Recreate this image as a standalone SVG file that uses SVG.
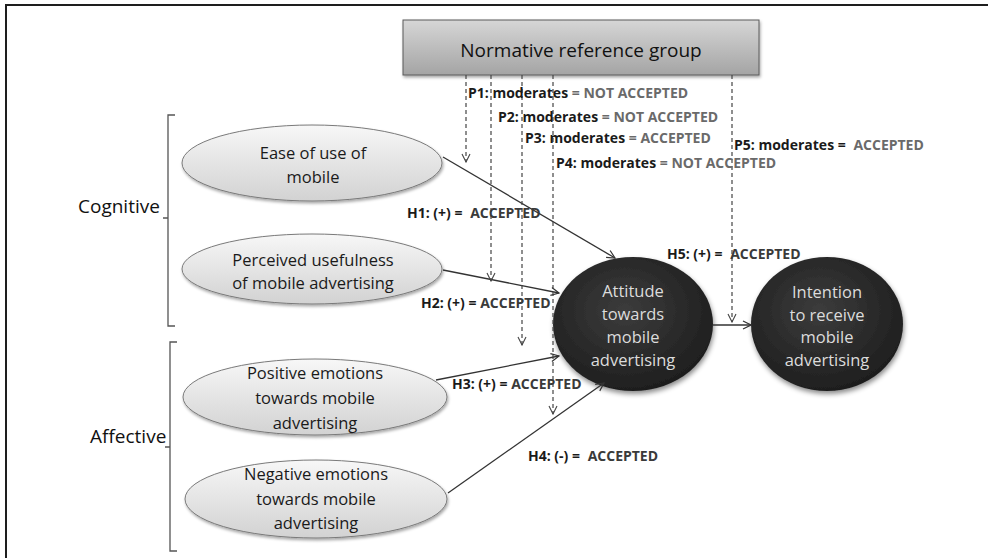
<svg xmlns="http://www.w3.org/2000/svg" width="988" height="558" viewBox="0 0 988 558">
<style>
.lbl{font-family:"Open Sans","Liberation Sans",sans-serif;font-weight:bold;font-size:14px;fill:#1a1a1a;}
.g{fill:#6a6a6a;}
.ga{fill:#3a3a3a;}
.nt{font-family:"Open Sans","Liberation Sans",sans-serif;font-size:16.5px;fill:#1a1a1a;text-anchor:middle;}
.ct{font-family:"Open Sans","Liberation Sans",sans-serif;font-size:16.5px;fill:#dcdcdc;text-anchor:middle;}
.side{font-family:"Open Sans","Liberation Sans",sans-serif;font-size:19px;fill:#111;}
.ell{fill:url(#lg);stroke:#7a7a7a;stroke-width:1;filter:url(#sh);}
.dark{fill:url(#dg);filter:url(#sh2);}
.arr{fill:none;stroke:#333;stroke-width:1.3;marker-end:url(#ah);}
.dash{fill:none;stroke:#444;stroke-width:1.2;stroke-dasharray:4,3;marker-end:url(#ah2);}
.br{fill:none;stroke:#555;stroke-width:1.3;}
</style>
<defs>
<linearGradient id="lg" x1="0" y1="0" x2="0" y2="1"><stop offset="0" stop-color="#f7f7f7"/><stop offset="1" stop-color="#d2d2d2"/></linearGradient>
<radialGradient id="dg" cx="0.45" cy="0.4" r="0.65"><stop offset="0" stop-color="#3c3c3c"/><stop offset="1" stop-color="#1c1c1c"/></radialGradient>
<linearGradient id="bg" x1="0" y1="0" x2="0" y2="1"><stop offset="0" stop-color="#d6d6d6"/><stop offset="1" stop-color="#a4a4a4"/></linearGradient>
<filter id="sh" x="-10%" y="-10%" width="125%" height="135%"><feDropShadow dx="1" dy="2" stdDeviation="1.5" flood-color="#000" flood-opacity="0.35"/></filter>
<filter id="sh2" x="-10%" y="-10%" width="125%" height="135%"><feDropShadow dx="1" dy="3" stdDeviation="2.5" flood-color="#000" flood-opacity="0.45"/></filter>
<marker id="ah" markerWidth="10" markerHeight="10" refX="9" refY="5" orient="auto" markerUnits="userSpaceOnUse"><path d="M1,1 L9,5 L1,9" fill="none" stroke="#333" stroke-width="1.2"/></marker>
<marker id="ah2" markerWidth="10" markerHeight="10" refX="9" refY="5" orient="auto" markerUnits="userSpaceOnUse"><path d="M1,1 L9,5 L1,9" fill="none" stroke="#444" stroke-width="1.1"/></marker>
</defs>
<rect width="988" height="558" fill="#fff"/>
<g id="frame"><path d="M6,558 L6,5 L988,5" fill="none" stroke="#1e1e1e" stroke-width="2"/></g>

<g id="cognitive-bracket">
<path class="br" d="M175,115 L168,115 L168,326 L175,326 M168,218 L163,218"/>
<text class="side" x="78" y="213">Cognitive</text>
</g>
<g id="affective-bracket">
<path class="br" d="M177,342 L170,342 L170,551 L177,551 M170,447 L165,447"/>
<text class="side" x="90" y="443">Affective</text>
</g>

<g id="normative">
<rect x="403" y="20" width="356" height="55" fill="url(#bg)" stroke="#5a5a5a" stroke-width="1" filter="url(#sh)"/>
<text x="581" y="57" font-family="'Open Sans','Liberation Sans',sans-serif" font-size="19" fill="#111" text-anchor="middle">Normative reference group</text>
</g>

<g id="ease">
<ellipse class="ell" cx="312" cy="163" rx="130" ry="38"/>
<text class="nt" x="313" y="159">Ease of use of</text>
<text class="nt" x="313" y="183">mobile</text>
</g>
<g id="usefulness">
<ellipse class="ell" cx="312" cy="269" rx="130" ry="35"/>
<text class="nt" x="313" y="266">Perceived usefulness</text>
<text class="nt" x="313" y="289">of mobile advertising</text>
</g>
<g id="positive">
<ellipse class="ell" cx="315" cy="397" rx="132" ry="38"/>
<text class="nt" x="315" y="379">Positive emotions</text>
<text class="nt" x="315" y="404">towards mobile</text>
<text class="nt" x="315" y="429">advertising</text>
</g>
<g id="negative">
<ellipse class="ell" cx="316" cy="499" rx="131" ry="39"/>
<text class="nt" x="316" y="480">Negative emotions</text>
<text class="nt" x="316" y="505">towards mobile</text>
<text class="nt" x="316" y="529">advertising</text>
</g>
<g id="attitude">
<ellipse class="dark" cx="633" cy="324" rx="80" ry="67"/>
<text class="ct" x="633" y="297">Attitude</text>
<text class="ct" x="633" y="320">towards</text>
<text class="ct" x="633" y="343">mobile</text>
<text class="ct" x="633" y="366">advertising</text>
</g>
<g id="intention">
<ellipse class="dark" cx="827" cy="324" rx="76" ry="67"/>
<text class="ct" x="827" y="298">Intention</text>
<text class="ct" x="827" y="321">to receive</text>
<text class="ct" x="827" y="343">mobile</text>
<text class="ct" x="827" y="366">advertising</text>
</g>

<g id="connectors">
<path class="arr" d="M443,157 L615,258"/>
<path class="arr" d="M443,270 L559,293"/>
<path class="arr" d="M436,380 L559,356"/>
<path class="arr" d="M448,493 L604,383"/>
<path class="arr" d="M713,325 L751,325"/>
<path class="dash" d="M466,75 L466,162"/>
<path class="dash" d="M491,75 L491,281"/>
<path class="dash" d="M522,75 L522,345"/>
<path class="dash" d="M553,75 L553,414"/>
<path class="dash" d="M732,75 L732,322"/>
</g>

<g id="labels">
<text class="lbl" x="468" y="98">P1: moderates <tspan class="g">= NOT ACCEPTED</tspan></text>
<text class="lbl" x="498" y="122">P2: moderates <tspan class="g">= NOT ACCEPTED</tspan></text>
<text class="lbl" x="525" y="143">P3: moderates <tspan class="g">= ACCEPTED</tspan></text>
<text class="lbl" x="556" y="168">P4: moderates <tspan class="g">= NOT ACCEPTED</tspan></text>
<text class="lbl" x="734" y="150">P5: moderates = <tspan class="g" dx="4">ACCEPTED</tspan></text>
<text class="lbl" x="407" y="218">H1: (+) = <tspan class="ga" dx="4">ACCEPTED</tspan></text>
<text class="lbl" x="421" y="308">H2: (+) = <tspan class="ga">ACCEPTED</tspan></text>
<text class="lbl" x="452" y="389">H3: (+) = <tspan class="ga">ACCEPTED</tspan></text>
<text class="lbl" x="528" y="461">H4: (-) = <tspan class="ga" dx="4">ACCEPTED</tspan></text>
<text class="lbl" x="667" y="259">H5: (+) = <tspan class="ga" dx="4">ACCEPTED</tspan></text>
</g>
</svg>
